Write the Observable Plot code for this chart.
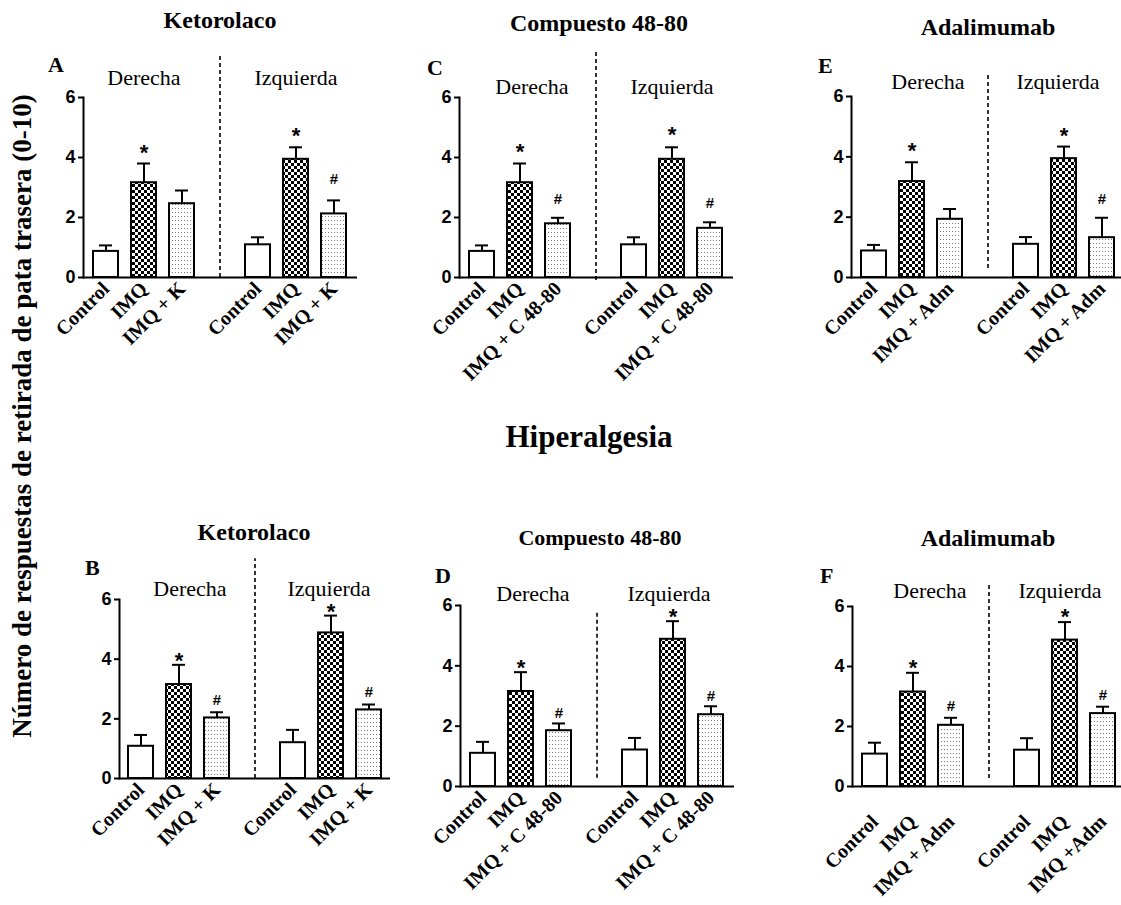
<!DOCTYPE html>
<html>
<head>
<meta charset="utf-8">
<script src="https://cdn.jsdelivr.net/npm/d3@7"></script>
<script src="https://cdn.jsdelivr.net/npm/@observablehq/plot@0.6"></script>
<style>
html, body { margin: 0; padding: 0; background: #fff; overflow: hidden; }
#fig { position: relative; width: 1121px; height: 905px; overflow: hidden; background: #fff; }
#fig svg.panel { position: absolute; }
#fig svg.panel [aria-label^="y-axis tick label"], #fig svg.panel [aria-label^="y-axis tick label"] text { font-weight: 700 !important; font-family: 'Liberation Sans', Arial, sans-serif !important; font-size: 18px !important; }
#fig svg.panel [aria-label^="x-axis tick label"], #fig svg.panel [aria-label^="x-axis tick label"] text { font-weight: 700 !important; }
#overlay { position: absolute; left: 0; top: 0; }
</style>
</head>
<body>
<svg width="0" height="0" style="position:absolute">
  <defs>
    <pattern id="checker" patternUnits="userSpaceOnUse" width="6" height="6">
      <rect width="6" height="6" fill="#fff"></rect>
      <rect width="3" height="3" fill="#000"></rect>
      <rect x="3" y="3" width="3" height="3" fill="#000"></rect>
    </pattern>
    <pattern id="dots" patternUnits="userSpaceOnUse" width="3" height="4">
      <rect width="3" height="4" fill="#fff"></rect>
      <rect x="1" y="1" width="1" height="1" fill="#7a7a7a"></rect>
    </pattern>
  </defs>
</svg>
<div id="fig"></div>
<script>
// ---------------- DATA ----------------
const sides = ["Derecha", "Izquierda"];
const groups = ["Control", "IMQ", "Treatment"];
const yTicks = [0, 2, 4, 6];
const yLabel = "Número de respuestas de retirada de pata trasera (0-10)";
const sectionTitle = "Hiperalgesia";

// order: Derecha Control, IMQ, IMQ+X, Izquierda Control, IMQ, IMQ+X
const A_labels = ["Control", "IMQ", "IMQ + K", "Control", "IMQ", "IMQ + K"];
const A_mean = [0.87, 3.16, 2.46, 1.09, 3.94, 2.12];
const A_sem  = [0.20, 0.64, 0.44, 0.25, 0.40, 0.45];
const A_sig  = ["", "*", "", "", "*", "#"];

const C_labels = ["Control", "IMQ", "IMQ + C 48-80", "Control", "IMQ", "IMQ + C 48-80"];
const C_mean = [0.87, 3.16, 1.79, 1.09, 3.94, 1.64];
const C_sem  = [0.20, 0.64, 0.20, 0.25, 0.40, 0.20];
const C_sig  = ["", "*", "#", "", "*", "#"];

const E_labels = ["Control", "IMQ", "IMQ + Adm", "Control", "IMQ", "IMQ + Adm"];
const E_mean = [0.88, 3.18, 1.93, 1.10, 3.94, 1.32];
const E_sem  = [0.20, 0.64, 0.34, 0.24, 0.40, 0.66];
const E_sig  = ["", "*", "", "", "*", "#"];

const B_labels = ["Control", "IMQ", "IMQ + K", "Control", "IMQ", "IMQ + K"];
const B_mean = [1.08, 3.15, 2.03, 1.20, 4.88, 2.30];
const B_sem  = [0.38, 0.66, 0.19, 0.43, 0.58, 0.18];
const B_sig  = ["", "*", "#", "", "*", "#"];

const D_labels = ["Control", "IMQ", "IMQ + C 48-80", "Control", "IMQ", "IMQ + C 48-80"];
const D_mean = [1.10, 3.15, 1.85, 1.21, 4.88, 2.38];
const D_sem  = [0.38, 0.64, 0.24, 0.40, 0.60, 0.28];
const D_sig  = ["", "*", "#", "", "*", "#"];

const F_labels = ["Control", "IMQ", "IMQ + Adm", "Control", "IMQ", "IMQ +Adm"];
const F_mean = [1.08, 3.15, 2.04, 1.21, 4.88, 2.43];
const F_sem  = [0.38, 0.64, 0.25, 0.40, 0.60, 0.23];
const F_sig  = ["", "*", "#", "", "*", "#"];

// ---------------- LAYOUT ----------------
const SERIF = "'Liberation Serif', 'Times New Roman', serif";
const SANS = "'Liberation Sans', Arial, sans-serif";

const panels = [
  {letter: "A", title: "Ketorolaco", labels: A_labels, mean: A_mean, sem: A_sem, sig: A_sig,
   g: {axisX: 83, y6: 97, y0: 277, xEnd: 357, sideDy: 20, sideDx: [0, 0], dash: [7.47, 0], starDy: -11, hashDy: -21, tickPad: 8,
       titleX: 220, titleY: 28, titleSize: 24, letterX: 48, letterY: 72}},
  {letter: "C", title: "Compuesto 48-80", labels: C_labels, mean: C_mean, sem: C_sem, sig: C_sig,
   g: {axisX: 459, y6: 97, y0: 277, xEnd: 733, sideDy: 10.5, sideDx: [12, 0], dash: [7.5, -0.1], starDy: -12, hashDy: -19, tickPad: 8,
       titleX: 599, titleY: 31, titleSize: 24, letterX: 427, letterY: 75}},
  {letter: "E", title: "Adalimumab", labels: E_labels, mean: E_mean, sem: E_sem, sig: E_sig,
   g: {axisX: 851, y6: 96, y0: 277, xEnd: 1125, sideDy: 15, sideDx: [16, -6], dash: [6.7, 0.3], starDy: -11, hashDy: -19, tickPad: 8,
       titleX: 988, titleY: 35, titleSize: 24, letterX: 818, letterY: 73}},
  {letter: "B", title: "Ketorolaco", labels: B_labels, mean: B_mean, sem: B_sem, sig: B_sig,
   g: {axisX: 119, y6: 599, y0: 778, xEnd: 390, sideDy: 11, sideDx: [11, -2], dash: [7.37, 0], starDy: -4, hashDy: -12, tickPad: 8,
       titleX: 254, titleY: 540, titleSize: 24, letterX: 85, letterY: 575}},
  {letter: "D", title: "Compuesto 48-80", labels: D_labels, mean: D_mean, sem: D_sem, sig: D_sig,
   g: {axisX: 460, y6: 605, y0: 786, xEnd: 734, sideDy: 11.5, sideDx: [12, -4], dash: [5.78, 0.27], starDy: -4, hashDy: -10, tickPad: 8,
       titleX: 600, titleY: 545, titleSize: 22, letterX: 435, letterY: 583}},
  {letter: "F", title: "Adalimumab", labels: F_labels, mean: F_mean, sem: F_sem, sig: F_sig,
   g: {axisX: 852, y6: 606, y0: 786, xEnd: 1126, sideDy: 16, sideDx: [17, -5], dash: [6.7, 0.27], starDy: -5, hashDy: -12, tickPad: 32,
       titleX: 988, titleY: 546, titleSize: 24, letterX: 820, letterY: 583}}
];

const fig = document.getElementById("fig");
const keys = ["D0", "D1", "D2", "I0", "I1", "I2"];
const domain = ["D0", "D1", "D2", "gap", "I0", "I1", "I2"];
const fills = ["#ffffff", "url(#checker)", "url(#dots)"];

function makePanel(p) {
  const g = p.g;
  const mL = 50, mT = 90, mR = 6, mB = 160;
  const plotW = g.xEnd - g.axisX, plotH = g.y0 - g.y6;
  const rows = keys.map((k, i) => ({
    key: k, treat: i % 3, mean: p.mean[i], upper: p.mean[i] + p.sem[i], sig: p.sig[i]
  }));
  const labelOf = new Map(keys.map((k, i) => [k, p.labels[i]]));
  const chart = Plot.plot({
    width: mL + plotW + mR,
    height: mT + plotH + mB,
    marginLeft: mL, marginTop: mT, marginRight: mR, marginBottom: mB,
    style: {background: "transparent", overflow: "visible", maxWidth: "none"},
    x: {domain, paddingInner: 0.33, paddingOuter: 0.2, axis: null},
    y: {domain: [0, 6], axis: null},
    marks: [
      Plot.axisY({ticks: yTicks, tickSize: 5, tickPadding: 3, strokeWidth: 2, fontSize: 18,
        fontFamily: SANS, fontWeight: "bold", tickFormat: d => String(d), label: null}),
      Plot.frame({anchor: "left", strokeWidth: 2}),
      ...[0, 1, 2].map(t => Plot.barY(rows.filter(r => r.treat === t), {
        x: "key", y: "mean", fill: fills[t], stroke: "#000", strokeWidth: 2})),
      Plot.ruleX(rows, {x: "key", y1: "mean", y2: "upper", strokeWidth: 2}),
      Plot.tickY(rows, {x: "key", y: "upper", strokeWidth: 2, insetLeft: 6, insetRight: 6}),
      Plot.ruleY([0], {strokeWidth: 2}),
      Plot.text(rows.filter(r => r.sig === "*"), {x: "key", y: "upper", text: "sig", dy: g.starDy,
        fontSize: 22, fontFamily: SANS, fontWeight: "bold"}),
      Plot.text(rows.filter(r => r.sig === "#"), {x: "key", y: "upper", text: "sig", dy: g.hashDy,
        fontSize: 15, fontFamily: SANS, fontWeight: "bold"}),
      Plot.ruleX(["gap"], {x: d => d, y1: g.dash[1], y2: g.dash[0], strokeWidth: 1.6, strokeDasharray: "4,3"}),
      ...sides.map((s, i) => Plot.text([s], {x: [["D1", "I1"][i]], frameAnchor: "top", lineAnchor: "middle",
        text: d => d, dy: -g.sideDy, dx: g.sideDx[i], fontSize: 22, fontFamily: SERIF})),
      Plot.axisX({tickRotate: -45, tickSize: 0, tickPadding: g.tickPad, fontSize: 20, fontFamily: SERIF,
        fontWeight: "bold", tickFormat: k => labelOf.get(k) ?? "", label: null})
    ]
  });
  chart.classList.add("panel");
  chart.style.left = (g.axisX - mL) + "px";
  chart.style.top = (g.y6 - mT) + "px";
  fig.appendChild(chart);
}

panels.forEach(makePanel);

// overlay texts: titles, panel letters, section title, shared y label
const overlay = d3.select(fig).append("svg")
  .attr("id", "overlay").attr("width", 1121).attr("height", 905);

overlay.selectAll("text.title").data(panels).join("text")
  .attr("class", "title")
  .attr("x", d => d.g.titleX).attr("y", d => d.g.titleY)
  .attr("text-anchor", "middle")
  .attr("font-family", SERIF).attr("font-weight", "bold")
  .attr("font-size", d => d.g.titleSize)
  .text(d => d.title);

overlay.selectAll("text.letter").data(panels).join("text")
  .attr("class", "letter")
  .attr("x", d => d.g.letterX).attr("y", d => d.g.letterY)
  .attr("font-family", SERIF).attr("font-weight", "bold").attr("font-size", 22)
  .text(d => d.letter);

overlay.append("text")
  .attr("x", 589).attr("y", 447)
  .attr("text-anchor", "middle")
  .attr("font-family", SERIF).attr("font-weight", "bold").attr("font-size", 31)
  .text(sectionTitle);

overlay.append("text")
  .attr("transform", "translate(31,416) rotate(-90)")
  .attr("text-anchor", "middle")
  .attr("font-family", SERIF).attr("font-weight", "bold").attr("font-size", 27)
  .text(yLabel);
</script>
</body>
</html>
